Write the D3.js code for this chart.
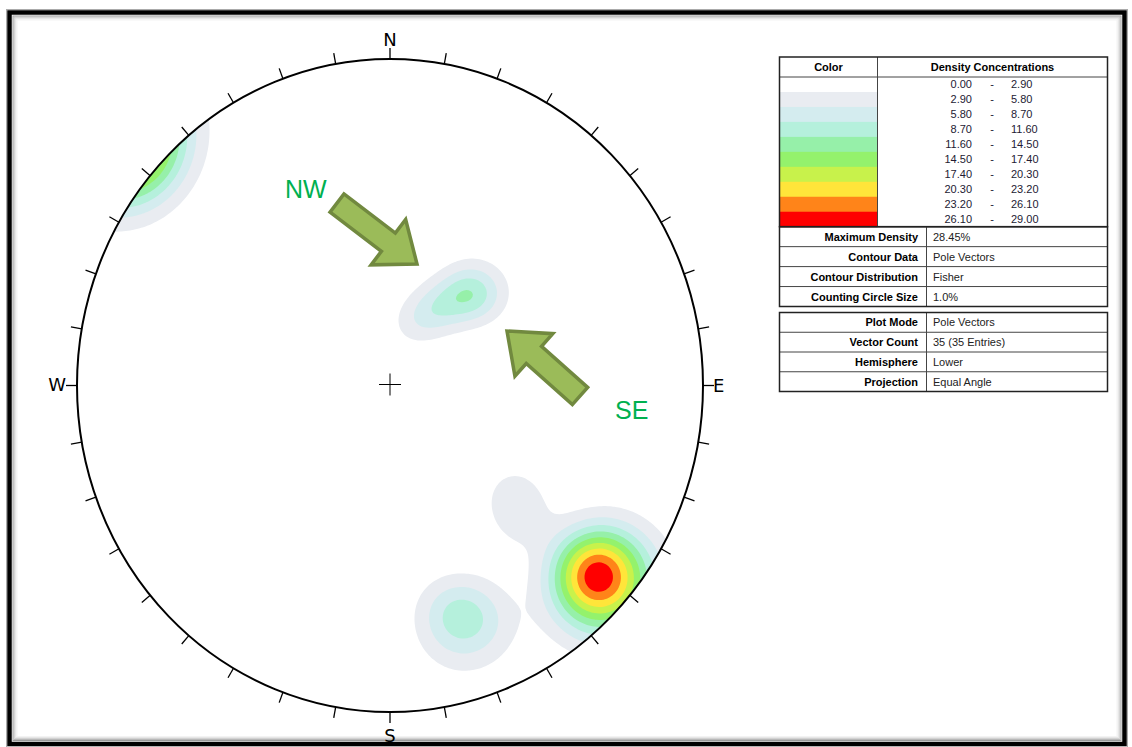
<!DOCTYPE html>
<html>
<head>
<meta charset="utf-8">
<script src="https://cdn.jsdelivr.net/npm/d3@7"></script>
<style>
  html, body { margin: 0; padding: 0; background: #fff; }
  svg { display: block; }
</style>
</head>
<body>
<svg id="chart" width="1132" height="747"></svg>
<script>
// ---- Pole vectors (trend / plunge, degrees) ----
const poleTrend  = [131,131,134,129,132,130,132,130,136,126,133,128,135,127,137,131,
                    130,132,135,
                    161,157,165,159,164,166,
                    41,45,37,48,34,39,31,27,19,44];
const polePlunge = [7,7,7,7,10,10,4,4,9,7,12,11,3,3,6,2,
                    36,33,28,
                    15,13,13,18,18,20,
                    51,48,54,44,57,47,60,63,68,47];

// ---- Density legend ----
const densityBreaks = [0.00, 2.90, 5.80, 8.70, 11.60, 14.50, 17.40, 20.30, 23.20, 26.10, 29.00];
const densityColors = ["#ffffff", "#e9ecf1", "#d4ecef", "#b5f0dc", "#96f0a9",
                       "#94f26c", "#c8f24b", "#ffe53a", "#ff8419", "#ff0000"];
const maxDensity = 28.45;

// ---- Compass and info tables ----
const compassLabels = ["N", "E", "S", "W"];
const contourInfoLabels = ["Maximum Density", "Contour Data", "Contour Distribution", "Counting Circle Size"];
const contourInfoValues = [maxDensity.toFixed(2) + "%", "Pole Vectors", "Fisher", "1.0%"];
const plotInfoLabels = ["Plot Mode", "Vector Count", "Hemisphere", "Projection"];
const plotInfoValues = ["Pole Vectors", `${poleTrend.length} (${poleTrend.length} Entries)`, "Lower", "Equal Angle"];

const svg = d3.select("#chart");
const W = 1132, H = 747;

// ---- Frame ----
svg.append("rect").attr("width", W).attr("height", H).attr("fill", "#fff");
const frame = svg.append("g");
frame.append("rect").attr("x", 9.5).attr("y", 12.5).attr("width", 1115).attr("height", 731.5)
  .attr("fill", "none").attr("stroke", "#000").attr("stroke-width", 4.5);
[["#9a9a9a", 3.5], ["#b8b8b8", 4.5], ["#d2d2d2", 5.5], ["#e6e6e6", 6.5], ["#f3f3f3", 7.5]].forEach(([c, d]) => {
  frame.append("rect").attr("x", 9.5 + d).attr("y", 12.5 + d)
    .attr("width", 1115 - 2 * d).attr("height", 731.5 - 2 * d)
    .attr("fill", "none").attr("stroke", c).attr("stroke-width", 1);
});
frame.append("rect").attr("x", 6.5).attr("y", 9.5).attr("width", 1121).attr("height", 737.5)
  .attr("fill", "none").attr("stroke", "#aaa").attr("stroke-width", 1);

// ---- Stereonet geometry ----
const cx = 390, cy = 385.5, rx = 313, ry = 326.5;
const ext = 1.06;            // grid extends slightly past the primitive circle
const n = 300;               // grid resolution
const xs = d3.scaleLinear().domain([0, n]).range([cx - ext * rx, cx + ext * rx]);
const ys = d3.scaleLinear().domain([0, n]).range([cy - ext * ry, cy + ext * ry]);
const toRad = Math.PI / 180;

// Pole unit vectors (east, north, down)
const poles = poleTrend.map((t, i) => {
  const p = polePlunge[i] * toRad, a = t * toRad;
  return [Math.cos(p) * Math.sin(a), Math.cos(p) * Math.cos(a), Math.sin(p)];
});

// Fisher-weighted density on an equal-angle (stereographic) grid, axial data
const kappa = 85;
const values = new Float64Array(n * n);
let rawMax = 0;
for (let j = 0; j < n; j++) {
  const ny = ext - (j + 0.5) * (2 * ext / n);
  for (let i = 0; i < n; i++) {
    const ex = -ext + (i + 0.5) * (2 * ext / n);
    const r = Math.hypot(ex, ny);
    const th = 2 * Math.atan(r);
    const az = Math.atan2(ex, ny);
    const v = [Math.sin(th) * Math.sin(az), Math.sin(th) * Math.cos(az), Math.cos(th)];
    let s = 0;
    for (const q of poles) {
      const d = Math.abs(v[0] * q[0] + v[1] * q[1] + v[2] * q[2]);
      s += Math.exp(kappa * (d - 1));
    }
    values[j * n + i] = s;
    if (r <= 1 && s > rawMax) rawMax = s;
  }
}
const k = maxDensity / rawMax;
for (let i = 0; i < values.length; i++) values[i] *= k;

const contours = d3.contours().size([n, n])
  .thresholds(densityBreaks.slice(1, -1))(values);

const gridPath = d3.geoPath(d3.geoTransform({
  point(x, y) { this.stream.point(xs(x), ys(y)); }
}));

svg.append("clipPath").attr("id", "net-clip")
  .append("ellipse").attr("cx", cx).attr("cy", cy).attr("rx", rx).attr("ry", ry);

svg.append("g").attr("clip-path", "url(#net-clip)")
  .selectAll("path").data(contours).join("path")
  .attr("d", gridPath)
  .attr("fill", (d, i) => densityColors[i + 1]);

// ---- Primitive circle and ticks ----
svg.append("ellipse").attr("cx", cx).attr("cy", cy).attr("rx", rx).attr("ry", ry)
  .attr("fill", "none").attr("stroke", "#000").attr("stroke-width", 2);

const tickAngles = d3.range(0, 360, 10);
const tickLen = 11;
svg.append("g").selectAll("line").data(tickAngles).join("line")
  .attr("x1", a => cx + rx * Math.sin(a * toRad))
  .attr("y1", a => cy - ry * Math.cos(a * toRad))
  .attr("x2", a => cx + (rx + tickLen) * Math.sin(a * toRad))
  .attr("y2", a => cy - (ry + tickLen) * Math.cos(a * toRad))
  .attr("stroke", "#000").attr("stroke-width", 1.3);

// Compass letters
const labelPos = {
  N: { x: cx, y: 46, anchor: "middle" },
  E: { x: 713, y: 392, anchor: "start" },
  S: { x: cx, y: 742, anchor: "middle" },
  W: { x: 66, y: 391, anchor: "end" }
};
svg.append("g").selectAll("text").data(compassLabels).join("text")
  .attr("x", d => labelPos[d].x).attr("y", d => labelPos[d].y)
  .attr("text-anchor", d => labelPos[d].anchor)
  .attr("font-family", "DejaVu Sans, sans-serif").attr("font-size", 18)
  .attr("fill", "#000").text(d => d);

// Centre cross
svg.append("path")
  .attr("d", `M${cx - 11},${cy - 1}H${cx + 11}M${cx},${cy - 12}V${cy + 10}`)
  .attr("stroke", "#000").attr("stroke-width", 1).attr("fill", "none");

// ---- Direction arrows ----
function blockArrow(tail, tip, shaftW, headW, headL) {
  const dx = tip[0] - tail[0], dy = tip[1] - tail[1];
  const L = Math.hypot(dx, dy), ux = dx / L, uy = dy / L, nx = -uy, ny = ux;
  const neck = [tip[0] - headL * ux, tip[1] - headL * uy];
  const pt = (b, s) => [b[0] + nx * s, b[1] + ny * s];
  return [pt(tail, shaftW / 2), pt(neck, shaftW / 2), pt(neck, headW / 2), tip,
          pt(neck, -headW / 2), pt(neck, -shaftW / 2), pt(tail, -shaftW / 2)];
}
const arrowLine = d3.line().curve(d3.curveLinearClosed);
const arrows = [
  { tail: [337, 203], tip: [417, 264], label: "NW", lx: 285, ly: 198 },
  { tail: [580, 396], tip: [507, 331], label: "SE", lx: 615, ly: 419 }
];
svg.append("g").selectAll("path").data(arrows).join("path")
  .attr("d", d => arrowLine(blockArrow(d.tail, d.tip, 23, 57, 36)))
  .attr("fill", "#9bbb59").attr("stroke", "#71893f").attr("stroke-width", 3.5)
  .attr("stroke-linejoin", "miter");
svg.append("g").selectAll("text").data(arrows).join("text")
  .attr("x", d => d.lx).attr("y", d => d.ly)
  .attr("font-family", "Liberation Sans, Arial, sans-serif").attr("font-size", 25)
  .attr("fill", "#00b050").text(d => d.label);

// ---- Legend table ----
const tx0 = 779.5, tx1 = 1107.5, colSplit = 877.5;
const lg = svg.append("g").attr("font-family", "Liberation Sans, Arial, sans-serif").attr("font-size", 11);
const rowH = 14.97, firstRowY = 77;

lg.selectAll("rect.sw").data(densityColors).join("rect").attr("class", "sw")
  .attr("x", tx0).attr("y", (d, i) => firstRowY + i * rowH)
  .attr("width", colSplit - tx0).attr("height", rowH + 0.5)
  .attr("fill", d => d);

const bandText = lg.append("g").attr("fill", "#231a33");
const bands = d3.range(densityColors.length);
bandText.selectAll("text.lo").data(bands).join("text").attr("class", "lo")
  .attr("x", 972).attr("y", i => firstRowY + i * rowH + 11).attr("text-anchor", "end")
  .text(i => densityBreaks[i].toFixed(2));
bandText.selectAll("text.dash").data(bands).join("text").attr("class", "dash")
  .attr("x", 992).attr("y", i => firstRowY + i * rowH + 11).attr("text-anchor", "middle")
  .text("-");
bandText.selectAll("text.hi").data(bands).join("text").attr("class", "hi")
  .attr("x", 1011).attr("y", i => firstRowY + i * rowH + 11)
  .text(i => densityBreaks[i + 1].toFixed(2));

lg.append("text").attr("x", (tx0 + colSplit) / 2).attr("y", 71).attr("text-anchor", "middle")
  .attr("font-weight", "bold").text("Color");
lg.append("text").attr("x", (colSplit + tx1) / 2).attr("y", 71).attr("text-anchor", "middle")
  .attr("font-weight", "bold").text("Density Concentrations");

const legendBottom = firstRowY + densityColors.length * rowH;
lg.append("path").attr("d", `M${tx0},${firstRowY}H${tx1}M${colSplit},57V${legendBottom}`)
  .attr("stroke", "#444").attr("stroke-width", 1);
lg.append("rect").attr("x", tx0).attr("y", 57).attr("width", tx1 - tx0).attr("height", legendBottom - 57)
  .attr("fill", "none").attr("stroke", "#222").attr("stroke-width", 1.5);

// Info tables
function infoTable(top, labels, vals, h) {
  const g = lg.append("g");
  const bottom = top + labels.length * h;
  const split = 926.5;
  g.selectAll("text.lab").data(labels).join("text").attr("class", "lab")
    .attr("x", 918).attr("y", (d, i) => top + i * h + h / 2 + 4).attr("text-anchor", "end")
    .attr("font-weight", "bold").attr("fill", "#000").text(d => d);
  g.selectAll("text.val").data(vals).join("text").attr("class", "val")
    .attr("x", 933).attr("y", (d, i) => top + i * h + h / 2 + 4)
    .attr("fill", "#222").text(d => d);
  g.selectAll("line.row").data(d3.range(1, labels.length)).join("line").attr("class", "row")
    .attr("x1", tx0).attr("x2", tx1)
    .attr("y1", i => top + i * h).attr("y2", i => top + i * h)
    .attr("stroke", "#444").attr("stroke-width", 1);
  g.append("line").attr("x1", split).attr("x2", split).attr("y1", top).attr("y2", bottom)
    .attr("stroke", "#444").attr("stroke-width", 1);
  g.append("rect").attr("x", tx0).attr("y", top).attr("width", tx1 - tx0).attr("height", bottom - top)
    .attr("fill", "none").attr("stroke", "#222").attr("stroke-width", 1.5);
}
infoTable(legendBottom, contourInfoLabels, contourInfoValues, (306.5 - legendBottom) / 4);
infoTable(312.5, plotInfoLabels, plotInfoValues, 19.75);
</script>
</body>
</html>
